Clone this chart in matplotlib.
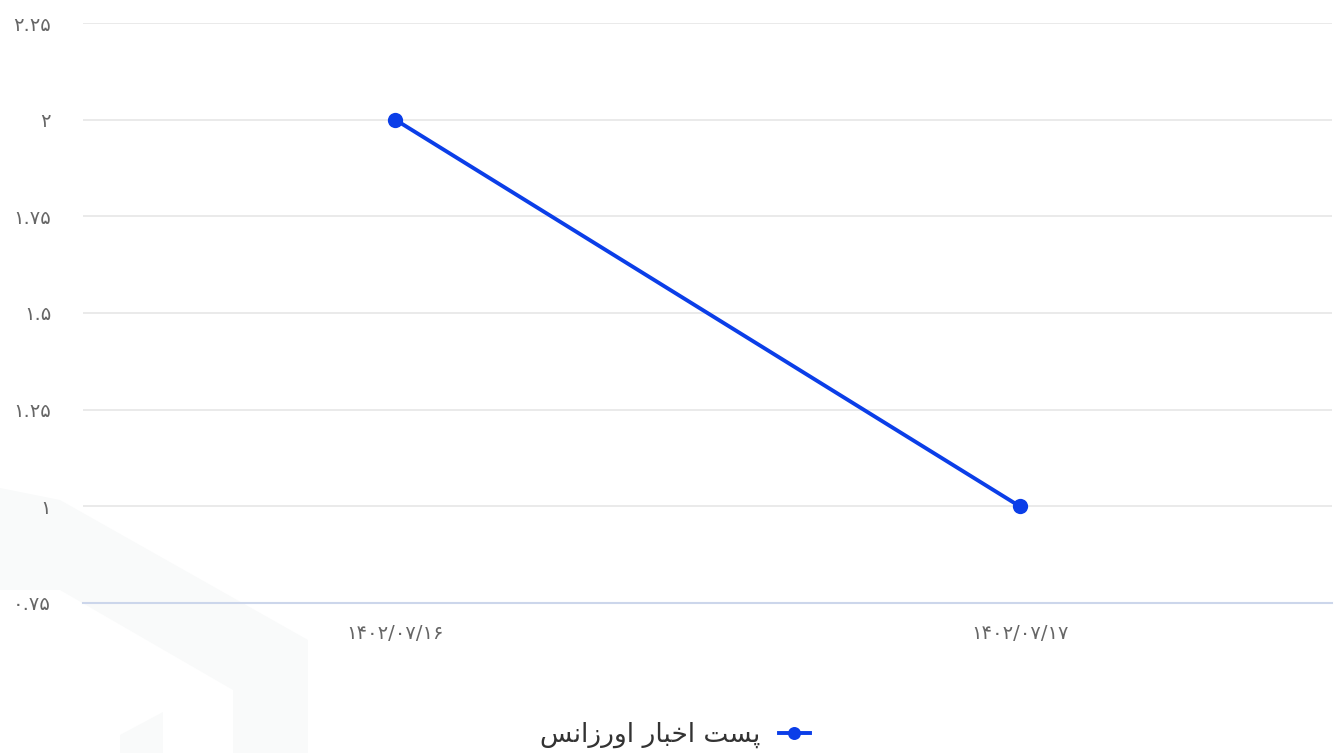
import matplotlib
matplotlib.use("Agg")
import matplotlib.pyplot as plt
from matplotlib.patches import Polygon

plt.rcParams['font.family'] = ['DejaVu Sans']

# data
dates = ["۱۴۰۲/۰۷/۱۶", "۱۴۰۲/۰۷/۱۷"]
values = [2, 1]
yticks = [0.75, 1, 1.25, 1.5, 1.75, 2, 2.25]
ytick_labels = ["۰.۷۵", "۱", "۱.۲۵", "۱.۵", "۱.۷۵", "۲", "۲.۲۵"]
# "پست اخبار اورزانس" pre-shaped (presentation forms, visual order)
series_name = ("\uFEB2\uFEE7\uFE8D\uFEAF\uFEAD\uFEED\uFE8D" + " "
               + "\uFEAD\uFE8E\uFE92\uFEA7\uFE8D" + " "
               + "\uFE96\uFEB4\uFB58")

W, H = 1336, 753
fig = plt.figure(figsize=(W / 100, H / 100), dpi=100)
fig.patch.set_facecolor("white")

# faint logo watermark in lower left (pixel coords, y from top)
wm_pts = [(0, 488), (60, 500), (308, 640), (308, 753), (233, 753),
          (233, 690), (60, 590), (0, 590)]
wm2_pts = [(120, 753), (120, 735), (163, 712), (163, 753)]
for pts in (wm_pts, wm2_pts):
    fig.patches.append(Polygon([(px, H - py) for px, py in pts], closed=True,
                               facecolor="#f9fafa", edgecolor="none",
                               transform=None, zorder=-5))

ax = fig.add_axes([83 / W, (H - 603) / H, (1332 - 83) / W, (603 - 23) / H])
ax.set_facecolor("none")

x = list(range(len(dates)))
ax.plot(x, values, color="#0b3ee8", lw=2.8, marker="o", ms=11,
        markeredgewidth=0, label=series_name, zorder=3)

ax.set_xlim(-0.5, len(dates) - 0.5)
ax.set_ylim(0.75, 2.25)
ax.set_yticks(yticks)
ax.set_yticklabels(ytick_labels)
ax.set_xticks(x)
ax.set_xticklabels(dates)

ax.grid(axis="y", color="#e6e6e6", lw=1.2)
ax.set_axisbelow(True)
for s in ["top", "right", "left"]:
    ax.spines[s].set_visible(False)
ax.spines["bottom"].set_color("#ccd6eb")
ax.spines["bottom"].set_linewidth(1.5)

ax.tick_params(axis="y", length=0, pad=23, labelsize=14, labelcolor="#666666")
ax.tick_params(axis="x", length=0, pad=15, labelsize=14, labelcolor="#666666")

fig.legend(loc="center", bbox_to_anchor=(675 / W, 1 - 735 / H),
           frameon=False, markerfirst=False, fontsize=19,
           labelcolor="#333333", handlelength=1.15, markerscale=0.85,
           handletextpad=0.7)

fig.savefig("out.png", dpi=100)
